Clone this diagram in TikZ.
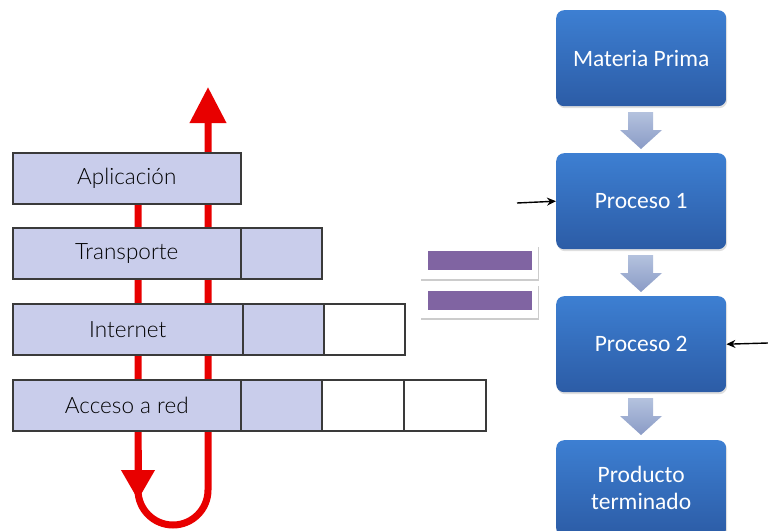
\documentclass[tikz,border=0pt]{standalone}
\usepackage{fontspec}
\setmainfont{Carlito}
\newfontfamily\layerfont{Lato Light}
\usetikzlibrary{arrows.meta,shadows}
\definecolor{layerfill}{HTML}{C9CDEB}
\definecolor{layerdraw}{HTML}{3A3A3A}
\definecolor{redline}{HTML}{E80000}
\definecolor{eqpurple}{HTML}{8064A2}
\definecolor{bluetop}{HTML}{3D7FD2}
\definecolor{bluebot}{HTML}{2C5CA6}
\definecolor{chevtop}{HTML}{B4C2DE}
\definecolor{chevbot}{HTML}{8A9BC6}
\tikzset{
  layer/.style={draw=layerdraw, line width=1.5pt, fill=layerfill, anchor=north west, inner sep=0pt, font=\layerfont\fontsize{22.5}{24}\selectfont, text=black},
  emptycell/.style={draw=layerdraw, line width=1.5pt, fill=white, anchor=north west, inner sep=0pt},
  procbox/.style={rounded corners=8pt, top color=bluetop, bottom color=bluebot, draw=none, anchor=north west, minimum width=170pt, text=white, font=\fontsize{23.5}{27}\selectfont, align=center, inner sep=0pt, drop shadow={opacity=0.25, shadow xshift=1pt, shadow yshift=-2pt}},
  redarrow/.style={draw=redline, line width=7pt},
  eqbox/.style={fill=white, draw=none, anchor=north west, inner sep=0pt, drop shadow={opacity=0.4, shadow xshift=1pt, shadow yshift=-2pt}},
  eqbar/.style={fill=eqpurple, draw=none, anchor=north west, inner sep=0pt},
  chev/.style={top color=chevtop, bottom color=chevbot, draw=none},
  smallarrow/.style={draw=black, line width=1.4pt, -{Stealth[length=9pt,width=8pt]}}
}
\begin{document}
\begin{tikzpicture}[x=1pt,y=-1pt]
\clip (0,0) rectangle (768,530);
\fill[white] (0,0) rectangle (768,530);
% red loop (behind the boxes)
\draw[redarrow, -{Triangle[length=36pt,width=35pt]}] (138,203) -- (138,490) arc[start angle=180, end angle=0, radius=35] -- (208,87);
\draw[redarrow, -{Triangle[length=30pt,width=32pt]}] (138,450) -- (138,500);
% layers
\node[layer, minimum width=228pt, minimum height=51pt] (apl) at (12,152) {Aplicación};
\node[layer, minimum width=228pt, minimum height=51pt] (tra) at (12,227) {Transporte};
\node[layer, minimum width=81pt, minimum height=51pt] (tra2) at (240,227) {};
\node[layer, minimum width=230pt, minimum height=51pt] (int) at (12,303) {Internet};
\node[layer, minimum width=81pt, minimum height=51pt] (int2) at (242,303) {};
\node[emptycell, minimum width=81pt, minimum height=51pt] (int3) at (323,303) {};
\node[layer, minimum width=228pt, minimum height=51pt] (acc) at (12,379) {Acceso a red};
\node[layer, minimum width=81pt, minimum height=51pt] (acc2) at (240,379) {};
\node[emptycell, minimum width=82pt, minimum height=51pt] (acc3) at (321,379) {};
\node[emptycell, minimum width=82pt, minimum height=51pt] (acc4) at (403,379) {};
% equals sign
\node[eqbox, minimum width=118pt, minimum height=34pt] (eq1) at (420,245) {};
\node[eqbox, minimum width=118pt, minimum height=34pt] (eq2) at (420,284) {};
\node[eqbar, minimum width=104pt, minimum height=19pt] (bar1) at (428,251) {};
\node[eqbar, minimum width=104pt, minimum height=19pt] (bar2) at (428,291) {};
% process boxes
\node[procbox, minimum height=96pt] (mp) at (556,10) {Materia Prima};
\node[procbox, minimum height=96pt] (p1) at (556,153) {Proceso 1};
\node[procbox, minimum height=96pt] (p2) at (556,296) {Proceso 2};
\node[procbox, minimum height=96pt] (pt) at (556,440) {Producto\\terminado};
% chevrons
\foreach \y in {112,255,398}{
  \path[chev] (628,\y) -- (653,\y) -- (653,\y+18) -- (662,\y+18) -- (641,\y+37) -- (620,\y+18) -- (628,\y+18) -- cycle;
}
% side arrows
\coordinate (inL) at (517,203);
\coordinate (inR) at (768,343);
\draw[smallarrow] (inL) -- (p1.west);
\draw[smallarrow] (inR) -- (p2.east);
\end{tikzpicture}
\end{document}
